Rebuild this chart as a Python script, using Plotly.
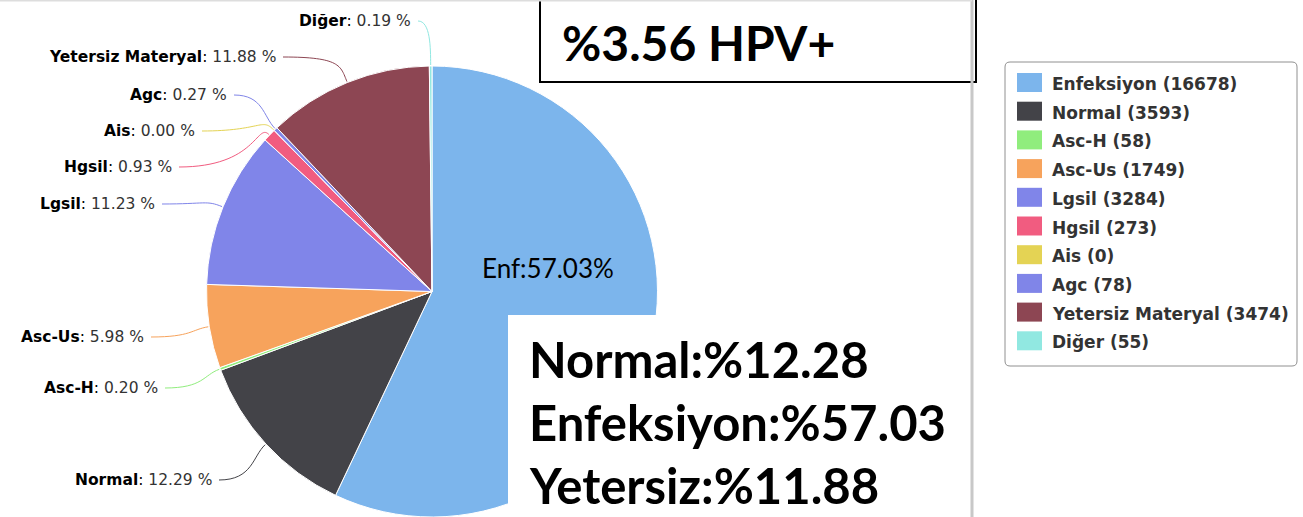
import math
import plotly.graph_objects as go

# data
labels = ["Enfeksiyon", "Normal", "Asc-H", "Asc-Us", "Lgsil", "Hgsil", "Ais", "Agc",
          "Yetersiz Materyal", "Diğer"]
counts = [16678, 3593, 58, 1749, 3284, 273, 0, 78, 3474, 55]
colors = ["#7cb5ec", "#434348", "#90ed7d", "#f7a35c", "#8085e9", "#f15c80", "#e4d354",
          "#8085e8", "#8d4653", "#91e8e1"]

hpv_text = "%3.56 HPV+"
summary_lines = ["Normal:%12.28", "Enfeksiyon:%57.03", "Yetersiz:%11.88"]
enf_text = "Enf:57.03%"

W, H = 1303, 517

# where each outside label ends (right edge, pixels) - layout only
label_pos = {
    "Normal": (214, 480), "Asc-H": (160, 388), "Asc-Us": (146, 337),
    "Lgsil": (157, 204), "Hgsil": (174, 167), "Ais": (197, 131),
    "Agc": (229, 95), "Yetersiz Materyal": (278, 57), "Diğer": (413, 21),
}

# pie geometry in pixels
cx, cy, R = 432, 291.5, 225.5


def px(x):
    return x / W


def py(y):
    return 1 - y / H


fig = go.Figure(go.Pie(
    labels=labels, values=counts, sort=False, direction="clockwise", rotation=0,
    marker=dict(colors=colors, line=dict(color="white", width=1)),
    textinfo="none", showlegend=False,
    domain=dict(x=[(cx - R) / W, (cx + R) / W], y=[0, 2 * R / H]),
))

shapes = []
annotations = []
total = sum(counts)
cum = 0
for lab, val, col in zip(labels, counts, colors):
    mid = (cum + val / 2) / total * 2 * math.pi
    cum += val
    if lab not in label_pos:
        continue
    lx, ly = label_pos[lab]
    ex, ey = cx + (R + 1) * math.sin(mid), cy - (R + 1) * math.cos(mid)
    ox, oy = cx + (R + 18) * math.sin(mid), cy - (R + 18) * math.cos(mid)
    sx = lx + 5
    path = (f"M {px(sx)},{py(ly)} C {px(ox)},{py(ly)} {px(ox)},{py(oy)} "
            f"{px(ex)},{py(ey)}")
    shapes.append(dict(type="path", path=path, xref="paper", yref="paper",
                       line=dict(color=col, width=1)))
    pct = val / total * 100
    annotations.append(dict(
        x=px(lx), y=py(ly), xref="paper", yref="paper", xanchor="right",
        yanchor="middle", showarrow=False,
        text=f"<b>{lab}</b>: <span style='color:#333'>{pct:.2f} %</span>",
        font=dict(family="DejaVu Sans", size=15.5, color="#000"),
    ))

# legend drawn by hand (Highcharts-style spacing)
lg_x0, lg_y0, lg_x1, lg_y1, r = 1005, 62, 1297, 366, 5
shapes.append(dict(
    type="path", xref="paper", yref="paper",
    path=(f"M {px(lg_x0 + r)},{py(lg_y0)} L {px(lg_x1 - r)},{py(lg_y0)} "
          f"Q {px(lg_x1)},{py(lg_y0)} {px(lg_x1)},{py(lg_y0 + r)} "
          f"L {px(lg_x1)},{py(lg_y1 - r)} Q {px(lg_x1)},{py(lg_y1)} {px(lg_x1 - r)},{py(lg_y1)} "
          f"L {px(lg_x0 + r)},{py(lg_y1)} Q {px(lg_x0)},{py(lg_y1)} {px(lg_x0)},{py(lg_y1 - r)} "
          f"L {px(lg_x0)},{py(lg_y0 + r)} Q {px(lg_x0)},{py(lg_y0)} {px(lg_x0 + r)},{py(lg_y0)} Z"),
    line=dict(color="#909090", width=1), fillcolor="white", layer="below"))
for i, (lab, val, col) in enumerate(zip(labels, counts, colors)):
    yc = 82.5 + i * 28.7
    shapes.append(dict(type="rect", xref="paper", yref="paper",
                       x0=px(1017), x1=px(1042), y0=py(yc - 9.5), y1=py(yc + 9.5),
                       fillcolor=col, line=dict(width=0)))
    annotations.append(dict(
        x=px(1050), y=py(yc + 1.5), xref="paper", yref="paper", xanchor="left",
        yanchor="middle", showarrow=False, text=f"<b>{lab} ({val})</b>",
        font=dict(family="DejaVu Sans", size=17, color="#333")))

# overlaid boxes from the slide
shapes.append(dict(type="rect", xref="paper", yref="paper",
                   x0=px(540), x1=px(976), y0=py(82), y1=py(-5),
                   fillcolor="white", line=dict(color="black", width=2)))
shapes.append(dict(type="rect", xref="paper", yref="paper",
                   x0=px(508), x1=px(970), y0=py(315), y1=py(H + 5),
                   fillcolor="white", line=dict(width=0)))
shapes.append(dict(type="line", xref="paper", yref="paper",
                   x0=px(972), x1=px(972), y0=0, y1=1,
                   line=dict(color="#c8c8c8", width=3)))
shapes.append(dict(type="line", xref="paper", yref="paper",
                   x0=0, x1=px(972), y0=py(0.5), y1=py(0.5),
                   line=dict(color="#dddddd", width=2)))

annotations.append(dict(x=px(560), y=py(43), xref="paper", yref="paper",
                        xanchor="left", yanchor="middle", showarrow=False,
                        text=f"<b>{hpv_text}</b>",
                        font=dict(family="Lato", size=48, color="black")))
for i, line in enumerate(summary_lines):
    annotations.append(dict(x=px(527), y=py(359 + i * 63), xref="paper", yref="paper",
                            xanchor="left", yanchor="middle", showarrow=False,
                            text=f"<b>{line}</b>",
                            font=dict(family="Lato", size=49, color="black")))
annotations.append(dict(x=px(480), y=py(268), xref="paper", yref="paper",
                        xanchor="left", yanchor="middle", showarrow=False,
                        text=enf_text, font=dict(family="Lato", size=26, color="black")))

fig.update_layout(
    width=W, height=H, margin=dict(l=0, r=0, t=0, b=0),
    paper_bgcolor="white", plot_bgcolor="white",
    shapes=shapes, annotations=annotations,
)

fig.write_html("out.html", config={"displayModeBar": False},
               post_script="document.body.style.margin='0';"
                           "document.body.style.overflow='hidden';")
